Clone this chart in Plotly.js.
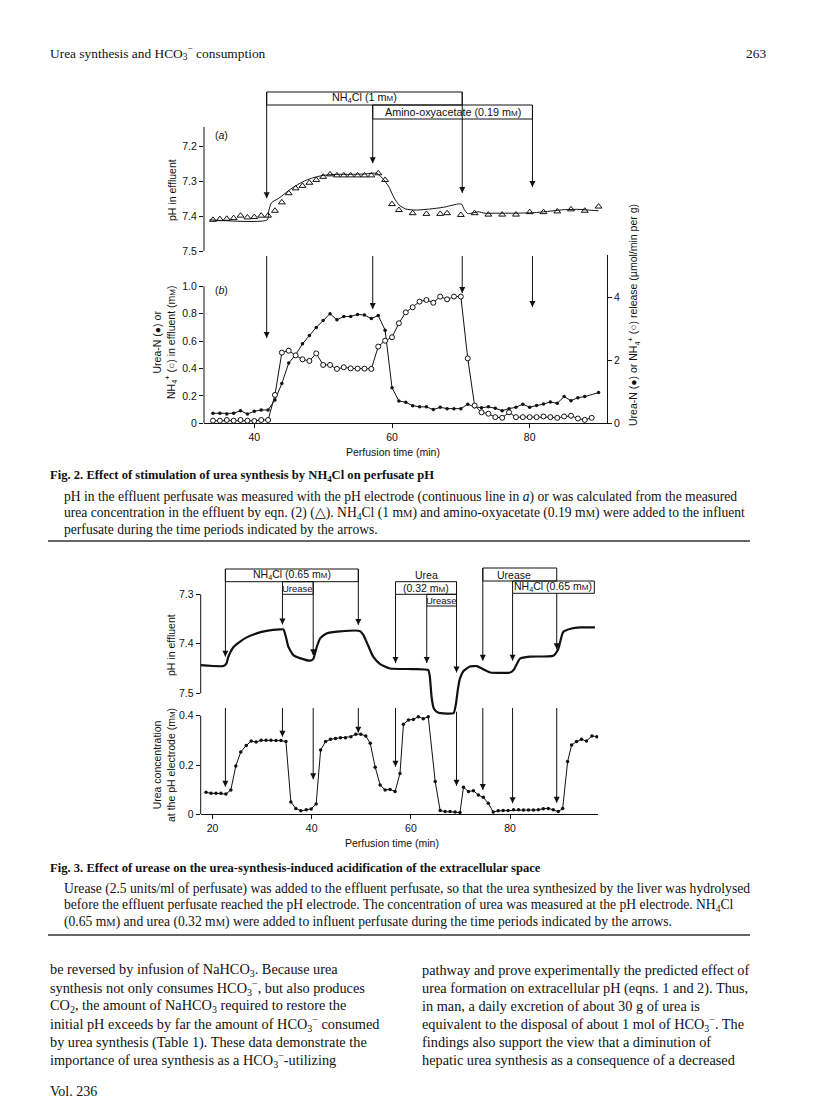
<!DOCTYPE html>
<html><head><meta charset="utf-8">
<script src="https://cdn.plot.ly/plotly-3.0.1.min.js"></script>
<style>html,body{margin:0;padding:0;background:#fff}#chart{width:816px;height:1101px}</style>
</head><body><div id="chart"></div>
<script>
// ================= DATA =================
// Fig. 2(a): pH calculated from urea (triangles)
const fig2aTriTime = [34,35,36,37,38,39,40,41,42,43,44,45,46,47,48,49,50,51,52,53,54,55,56,57,58,59,60,61,63,65,67,68,70,72,74,76,78,80,82,84,86,88,90];
const fig2aTriPH = [7.411,7.409,7.408,7.406,7.399,7.404,7.403,7.399,7.399,7.385,7.361,7.335,7.321,7.314,7.305,7.297,7.288,7.281,7.284,7.284,7.284,7.284,7.284,7.284,7.278,7.297,7.366,7.383,7.392,7.394,7.394,7.392,7.397,7.392,7.396,7.396,7.396,7.389,7.389,7.387,7.381,7.385,7.373];
// Fig. 2(a): pH electrode (continuous line)
const fig2aLineTime = [33.5,41.9,42.1,42.5,43.5,44.5,45.5,46.5,47.5,48.5,50,52,54,56,57.8,58.6,59.5,60.3,61.0,62,63.5,65.5,67.5,69.5,70.1,70.5,71.0,71.6,72.5,73.5,75,78,81,83,85,87,88.5,90];
const fig2aLinePH = [7.411,7.411,7.385,7.362,7.350,7.335,7.320,7.308,7.298,7.291,7.284,7.281,7.281,7.280,7.278,7.292,7.315,7.348,7.368,7.380,7.383,7.380,7.375,7.366,7.366,7.382,7.393,7.392,7.388,7.392,7.392,7.392,7.390,7.386,7.382,7.381,7.383,7.385];
// Fig. 2(b): Urea-N (closed) and NH4+ (open), mM
const fig2bUreaTime = [34,35,36,37,38,39,40,41,42,43,44,45,46,47,48,49,50,51,52,53,54,55,56,57,58,59,60,61,62,63,64,65,66,67,68,69,70,71,72,73,74,75,76,77,78,79,80,81,82,83,84,85,86,87,88,90];
const fig2bUreaN = [0.073,0.073,0.068,0.073,0.092,0.068,0.088,0.097,0.097,0.17,0.29,0.44,0.50,0.58,0.64,0.70,0.75,0.80,0.755,0.78,0.78,0.795,0.79,0.765,0.786,0.68,0.26,0.163,0.153,0.129,0.12,0.12,0.10,0.117,0.107,0.107,0.107,0.139,0.12,0.114,0.12,0.11,0.092,0.107,0.117,0.139,0.117,0.13,0.14,0.156,0.146,0.195,0.165,0.187,0.195,0.224];
const fig2bNH4Time = [34,35,36,37,38,39,40,41,42,43,44,45,46,47,48,49,50,51,52,53,54,55,56,57,58,59,60,61,62,63,64,65,66,67,68,69,70,71,72,73,74,75,76,77,78,79,80,81,82,83,84,85,86,87,88,89];
const fig2bNH4 = [0.019,0.019,0.024,0.019,0.024,0.019,0.017,0.024,0.024,0.207,0.516,0.53,0.496,0.467,0.455,0.51,0.426,0.426,0.397,0.409,0.401,0.399,0.399,0.397,0.56,0.603,0.628,0.73,0.81,0.847,0.888,0.90,0.88,0.925,0.905,0.925,0.925,0.474,0.13,0.08,0.07,0.045,0.04,0.08,0.045,0.045,0.045,0.045,0.05,0.045,0.04,0.05,0.055,0.035,0.025,0.04];
// Fig. 2 addition times (min) and arrow tip levels
const fig2Events = [41.8, 57.2, 70.2, 80.4];
const fig2aArrowTipPH = [7.349, 7.249, 7.334, 7.317];
const fig2bArrowTip = [0.623, 0.835, 0.951, 0.849];

// Fig. 3: pH trace
const fig3PHTime = [17.6,22.2,22.8,23.2,24.2,25.5,26.9,28.9,30.9,33.6,34.3,34.8,35.3,36.3,37.6,39.7,40.3,41.0,41.7,43.0,45.7,49.7,50.4,51.4,52.4,53.8,55.8,60.5,63.5,63.8,64.2,64.6,65.3,66,68.6,69.1,69.5,69.9,70.6,71.9,73.3,74.3,76.0,80.0,80.7,82.0,84.0,88.7,89.7,90.7,92.4,94.1,97.1];
const fig3PH = [7.443,7.445,7.44,7.426,7.407,7.396,7.387,7.379,7.374,7.371,7.371,7.386,7.406,7.423,7.429,7.434,7.431,7.407,7.389,7.379,7.375,7.374,7.382,7.404,7.426,7.441,7.45,7.451,7.453,7.465,7.51,7.53,7.538,7.54,7.54,7.52,7.49,7.47,7.455,7.446,7.445,7.45,7.458,7.458,7.453,7.43,7.426,7.424,7.411,7.376,7.369,7.367,7.367];
// Fig. 3: urea concentration at the pH electrode (mM)
const fig3UreaTime = [18.7,19.7,20.7,21.7,22.7,23.7,24.7,25.7,26.8,27.8,28.8,29.8,30.8,31.8,32.8,33.8,34.8,35.8,36.8,37.8,38.9,39.9,40.9,41.8,42.8,43.8,44.8,45.8,46.8,47.9,48.9,49.9,50.9,51.8,52.8,53.8,54.8,55.8,56.8,57.8,58.5,59.5,60.5,61.5,62.5,63.5,64.9,65.9,66.9,67.9,68.9,69.9,70.6,71.6,72.6,73.6,74.6,75.6,76.6,77.6,78.6,79.6,80.7,81.7,82.7,83.7,84.7,85.7,86.7,87.7,88.7,89.7,90.6,91.6,92.4,93.4,94.4,95.4,96.5,97.5];
const fig3Urea = [0.089,0.085,0.085,0.085,0.082,0.099,0.196,0.253,0.279,0.297,0.293,0.30,0.30,0.30,0.299,0.299,0.295,0.05,0.024,0.014,0.018,0.022,0.042,0.261,0.295,0.304,0.308,0.311,0.311,0.315,0.325,0.325,0.318,0.288,0.191,0.119,0.099,0.101,0.092,0.166,0.365,0.383,0.385,0.396,0.388,0.396,0.133,0.015,0.011,0.011,0.009,0.007,0.11,0.092,0.096,0.078,0.069,0.045,0.009,0.014,0.015,0.015,0.018,0.018,0.017,0.017,0.017,0.018,0.023,0.024,0.018,0.011,0.024,0.214,0.281,0.295,0.304,0.297,0.318,0.315];
// Fig. 3 addition times and arrow tips
const fig3Events = [22.6, 34.1, 40.3, 49.4, 56.9, 63.2, 69.2, 74.5, 80.5, 89.4];
const fig3TopArrowTipPH = [7.426, 7.361, 7.423, 7.362, 7.439, 7.439, 7.458, 7.434, 7.434, 7.411];
const fig3BottomArrowTip = [0.112, 0.315, 0.142, 0.331, 0.193, null, 0.116, 0.099, 0.045, 0.047];

// ================= LAYOUT HELPERS =================
const W = 816, H = 1101;
const PX = v => v / W;
const PY = v => 1 - v / H;
const SANS = 'Liberation Sans, Arial, sans-serif';
const SERIF = 'Liberation Serif, Times New Roman, serif';
const mm = 'm<span style="font-size:8px">M</span>';
const mmS = 'm<span style="font-size:10.5px">M</span>';

const traces = [
  {x: fig2aLineTime, y: fig2aLinePH, xaxis:'x', yaxis:'y', mode:'lines', line:{color:'#111', width:1, shape:'spline', smoothing:0.6}, hoverinfo:'skip'},
  {x: fig2aTriTime, y: fig2aTriPH, xaxis:'x', yaxis:'y', mode:'markers', marker:{symbol:'triangle-up-open', size:6, color:'#111', line:{width:1}}, hoverinfo:'skip'},
  {x: fig2bUreaTime, y: fig2bUreaN, xaxis:'x', yaxis:'y2', mode:'lines+markers', line:{color:'#111', width:1}, marker:{symbol:'circle', size:3.5, color:'#111'}, hoverinfo:'skip'},
  {x: fig2bNH4Time, y: fig2bNH4, xaxis:'x', yaxis:'y2', mode:'lines+markers', line:{color:'#111', width:1}, marker:{symbol:'circle', size:5, color:'#fff', line:{color:'#111', width:1}}, hoverinfo:'skip'},
  {x: fig3PHTime, y: fig3PH, xaxis:'x2', yaxis:'y4', mode:'lines', line:{color:'#111', width:2.2, shape:'spline', smoothing:0.5}, hoverinfo:'skip'},
  {x: fig3UreaTime, y: fig3Urea, xaxis:'x2', yaxis:'y5', mode:'lines+markers', line:{color:'#111', width:1}, marker:{symbol:'circle', size:3.5, color:'#111'}, hoverinfo:'skip'}
];

const tickFont = {family:SANS, size:10.5, color:'#111'};
const baseAxis = {showgrid:false, zeroline:false, ticks:'outside', ticklen:4, tickwidth:1, tickcolor:'#111', tickfont:tickFont, fixedrange:true};

// Fig.2 geometry (pixels)
const f2L = 204, f2R = 607;
const f2t = p => 40 + (p - 254.3) / 6.885;
const f2aPH = p => 7.5 - (251 - p) / 350;
const f2bTop = 255, f2bBot = 423.3;
// Fig.3 geometry
const f3L = 200.7, f3R = 598.3;
const f3t = p => 20 + (p - 212.5) / 4.96;
const f3PH = p => 7.3 + (p - 594.3) / 495;
const f3Bot = 814.3, f3UTop = 706;

const layout = {
  width: W, height: H, autosize:false,
  margin:{l:0,r:0,t:0,b:0,pad:0},
  paper_bgcolor:'#fff', plot_bgcolor:'rgba(0,0,0,0)',
  showlegend:false,
  font:{family:SANS, color:'#111'},
  xaxis: Object.assign({}, baseAxis, {domain:[PX(f2L), PX(f2R)], range:[f2t(f2L), f2t(f2R)], anchor:'y2', tickvals:[40,60,80], showline:true, linecolor:'#111', linewidth:1}),
  yaxis: Object.assign({}, baseAxis, {domain:[PY(251), PY(88)], range:[7.5, f2aPH(88)], anchor:'x', tickvals:[7.2,7.3,7.4,7.5], ticktext:['7.2','7.3','7.4','7.5'], showline:false}),
  yaxis2: Object.assign({}, baseAxis, {domain:[PY(f2bBot), PY(f2bTop)], range:[0, (f2bBot-f2bTop)/137], anchor:'x', tickvals:[0,0.2,0.4,0.6,0.8,1.0], ticktext:['0','0.2','0.4','0.6','0.8','1.0'], showline:false}),
  yaxis3: Object.assign({}, baseAxis, {overlaying:'y2', side:'right', anchor:'x', range:[0, (f2bBot-f2bTop)/31.5], tickvals:[0,2,4], ticktext:['0','2','4'], showline:true, linecolor:'#111', linewidth:1}),
  xaxis2: Object.assign({}, baseAxis, {domain:[PX(f3L), PX(f3R)], range:[f3t(f3L), f3t(f3R)], anchor:'y5', tickvals:[20,40,60,80], showline:true, linecolor:'#111', linewidth:1}),
  yaxis4: Object.assign({}, baseAxis, {domain:[PY(716), PY(565)], range:[f3PH(716), f3PH(565)], anchor:'x2', tickvals:[7.3,7.4,7.5], ticktext:['7.3','7.4','7.5'], showline:false}),
  yaxis5: Object.assign({}, baseAxis, {domain:[PY(f3Bot), PY(f3UTop)], range:[0, (f3Bot-f3UTop)/246.5], anchor:'x2', tickvals:[0,0.2,0.4], ticktext:['0','0.2','0.4'], showline:false}),
  shapes: [],
  annotations: []
};
// invisible trace so the right-hand axis is drawn
traces.push({x:[fig2bUreaTime[0]], y:[0], xaxis:'x', yaxis:'y3', mode:'markers', marker:{opacity:0}, hoverinfo:'skip'});

const S = layout.shapes, A = layout.annotations;
const lineStyle = {color:'#111', width:1};
// axis lines drawn as shapes (partial length)
S.push({type:'line', xref:'x domain', yref:'y', x0:0, x1:0, y0:7.5, y1:f2aPH(127), line:lineStyle});
S.push({type:'line', xref:'x domain', yref:'y2', x0:0, x1:0, y0:0, y1:1.0, line:lineStyle});
S.push({type:'line', xref:'x2 domain', yref:'y4', x0:0, x1:0, y0:7.3, y1:7.5, line:lineStyle});
S.push({type:'line', xref:'x2 domain', yref:'y5', x0:0, x1:0, y0:0, y1:0.4, line:lineStyle});

function box(xr, yr, t0, t1, y0, y1){
  S.push({type:'rect', xref:xr, yref:yr, x0:t0, x1:t1, y0:y0, y1:y1, line:lineStyle, fillcolor:'rgba(0,0,0,0)'});
}
// arrows: shaft as shape, head as 'arrow-down' marker (tip sits on the point)
const heads = {};
function arrow(xa, ya, t, tip, tail){
  S.push({type:'line', xref:xa, yref:ya, x0:t, x1:t, y0:tail, y1:tip, line:lineStyle});
  const k = xa + ya;
  if(!heads[k]) heads[k] = {x:[], y:[], xaxis:xa, yaxis:ya};
  heads[k].x.push(t); heads[k].y.push(tip);
}
function label(xr, yr, x, y, text, size, opts){
  A.push(Object.assign({xref:xr, yref:yr, x:x, y:y, text:text, showarrow:false, font:{family:SANS, size:size||10, color:'#111'}, xanchor:'center', yanchor:'middle'}, opts||{}));
}

// ---- Fig 2a brackets ----
const e2 = fig2Events;
box('x','y', e2[0], e2[2], f2aPH(92), f2aPH(105));
box('x','y', e2[1], e2[3], f2aPH(105), f2aPH(119));
label('x','y', (e2[0]+e2[2])/2, f2aPH(98.5), 'NH<sub>4</sub>Cl (1 ' + mm + ')', 10.8);
label('x','y', (e2[1]+e2[3])/2, f2aPH(112), 'Amino-oxyacetate (0.19 ' + mm + ')', 10.8);
arrow('x','y', e2[0], fig2aArrowTipPH[0], f2aPH(92));
arrow('x','y', e2[1], fig2aArrowTipPH[1], f2aPH(105));
arrow('x','y', e2[2], fig2aArrowTipPH[2], f2aPH(92));
arrow('x','y', e2[3], fig2aArrowTipPH[3], f2aPH(105));
// ---- Fig 2b arrows ----
for(let i=0;i<e2.length;i++) arrow('x','y2', e2[i], fig2bArrowTip[i], (f2bBot-256)/137);

// ---- Fig 3 brackets ----
const e3 = fig3Events;
box('x2','y4', e3[0], e3[3], f3PH(569), f3PH(581.7));
box('x2','y4', e3[1], e3[2], f3PH(581.7), f3PH(594.3));
box('x2','y4', e3[4], e3[6], f3PH(581.7), f3PH(594.3));
box('x2','y4', e3[5], e3[6], f3PH(594.3), f3PH(606));
box('x2','y4', e3[7], e3[9], f3PH(568), f3PH(581));
box('x2','y4', e3[8], f3t(594.3), f3PH(581), f3PH(593.3));
label('x2','y4', f3t(291.7), f3PH(575.3), 'NH<sub>4</sub>Cl (0.65 ' + mm + ')', 10.5);
label('x2','y4', (e3[1]+e3[2])/2, f3PH(588.2), 'Urease', 9.5);
label('x2','y4', (e3[4]+e3[6])/2, f3PH(575), 'Urea', 10.5);
label('x2','y4', (e3[4]+e3[6])/2, f3PH(588.2), '(0.32 ' + mm + ')', 10.5);
label('x2','y4', (e3[5]+e3[6])/2, f3PH(600.3), 'Urease', 9.5);
label('x2','y4', f3t(514), f3PH(574.7), 'Urease', 10.5);
label('x2','y4', (e3[8]+f3t(594.3))/2, f3PH(587.3), 'NH<sub>4</sub>Cl (0.65 ' + mm + ')', 10.5);
const f3Tails = [f3PH(569), f3PH(594.3), f3PH(581.7), f3PH(569), f3PH(594.3), f3PH(606), f3PH(581.7), f3PH(568), f3PH(593.3), f3PH(593.3)];
for(let i=0;i<e3.length;i++) arrow('x2','y4', e3[i], fig3TopArrowTipPH[i], f3Tails[i]);
for(let i=0;i<e3.length;i++){
  if(fig3BottomArrowTip[i]===null) continue;
  const top = (i===6) ? (f3Bot-711.7)/246.5 : (f3Bot-708)/246.5;
  arrow('x2','y5', e3[i], fig3BottomArrowTip[i], top);
}
Object.values(heads).forEach(h => traces.push({x:h.x, y:h.y, xaxis:h.xaxis, yaxis:h.yaxis, mode:'markers', marker:{symbol:'arrow-down', size:6, color:'#111', line:{width:0}}, hoverinfo:'skip', cliponaxis:false}));

// ---- chart text ----
label('paper','paper', PX(222), PY(135), '(<i>a</i>)', 10.5);
label('paper','paper', PX(222), PY(290), '(<i>b</i>)', 10.5);
label('paper','paper', PX(172), PY(190), 'pH in effluent', 10.5, {textangle:-90});
label('paper','paper', PX(165), PY(343), 'Urea-N (●) or<br>NH<sub>4</sub><sup>+</sup> (○) in effluent (' + mm + ')', 10.5, {textangle:-90});
label('paper','paper', PX(634), PY(315), 'Urea-N (●) or NH<sub>4</sub><sup>+</sup> (○) release (µmol/min per g)', 10.5, {textangle:-90});
label('paper','paper', PX(393), PY(452), 'Perfusion time (min)', 10.5);
label('paper','paper', PX(171), PY(645), 'pH in effluent', 10.5, {textangle:-90});
label('paper','paper', PX(164), PY(765), 'Urea concentration<br>at the pH electrode (' + mm + ')', 10.5, {textangle:-90});
label('paper','paper', PX(392), PY(843), 'Perfusion time (min)', 10.5);

// ---- page text ----
function txt(x, y, text, size, opts){
  A.push(Object.assign({xref:'paper', yref:'paper', x:PX(x), y:PY(y), text:text, showarrow:false, xanchor:'left', yanchor:'middle', font:{family:SERIF, size:size, color:'#111'}}, opts||{}));
}
const H3 = 'HCO<sub>3</sub><sup>−</sup>';
txt(48, 53, 'Urea synthesis and ' + H3 + ' consumption', 13.4);
txt(768, 53, '263', 13.4, {xanchor:'right'});
txt(48, 476, '<b>Fig. 2. Effect of stimulation of urea synthesis by NH<sub>4</sub>Cl on perfusate pH</b>', 12.6);
const cap2 = [
  'pH in the effluent perfusate was measured with the pH electrode (continuous line in <i>a</i>) or was calculated from the measured',
  'urea concentration in the effluent by eqn. (2) (△). NH<sub>4</sub>Cl (1 ' + mmS + ') and amino-oxyacetate (0.19 ' + mmS + ') were added to the influent',
  'perfusate during the time periods indicated by the arrows.'
];
cap2.forEach((s,i)=>txt(62, 497 + i*16, s, 13.6));
S.push({type:'line', xref:'paper', yref:'paper', x0:PX(48), x1:PX(750), y0:PY(541), y1:PY(541), line:{color:'#333', width:1.5}});
txt(48, 868, '<b>Fig. 3. Effect of urease on the urea-synthesis-induced acidification of the extracellular space</b>', 12.6);
const cap3 = [
  'Urease (2.5 units/ml of perfusate) was added to the effluent perfusate, so that the urea synthesized by the liver was hydrolysed',
  'before the effluent perfusate reached the pH electrode. The concentration of urea was measured at the pH electrode. NH<sub>4</sub>Cl',
  '(0.65 ' + mmS + ') and urea (0.32 ' + mmS + ') were added to influent perfusate during the time periods indicated by the arrows.'
];
cap3.forEach((s,i)=>txt(62, 889 + i*16.5, s, 13.6));
S.push({type:'line', xref:'paper', yref:'paper', x0:PX(48), x1:PX(750), y0:PY(935), y1:PY(935), line:{color:'#333', width:1.5}});
const colL = [
  'be reversed by infusion of NaHCO<sub>3</sub>. Because urea',
  'synthesis not only consumes ' + H3 + ', but also produces',
  'CO<sub>2</sub>, the amount of NaHCO<sub>3</sub> required to restore the',
  'initial pH exceeds by far the amount of ' + H3 + ' consumed',
  'by urea synthesis (Table 1). These data demonstrate the',
  'importance of urea synthesis as a ' + H3 + '-utilizing'
];
const colR = [
  'pathway and prove experimentally the predicted effect of',
  'urea formation on extracellular pH (eqns. 1 and 2). Thus,',
  'in man, a daily excretion of about 30 g of urea is',
  'equivalent to the disposal of about 1 mol of ' + H3 + '. The',
  'findings also support the view that a diminution of',
  'hepatic urea synthesis as a consequence of a decreased'
];
colL.forEach((s,i)=>txt(48, 970 + i*18, s, 14.3));
colR.forEach((s,i)=>txt(420, 970 + i*18, s, 14.3));
txt(48, 1091, 'Vol. 236', 14);

Plotly.newPlot('chart', traces, layout, {staticPlot:true, displayModeBar:false});
</script>
</body></html>
